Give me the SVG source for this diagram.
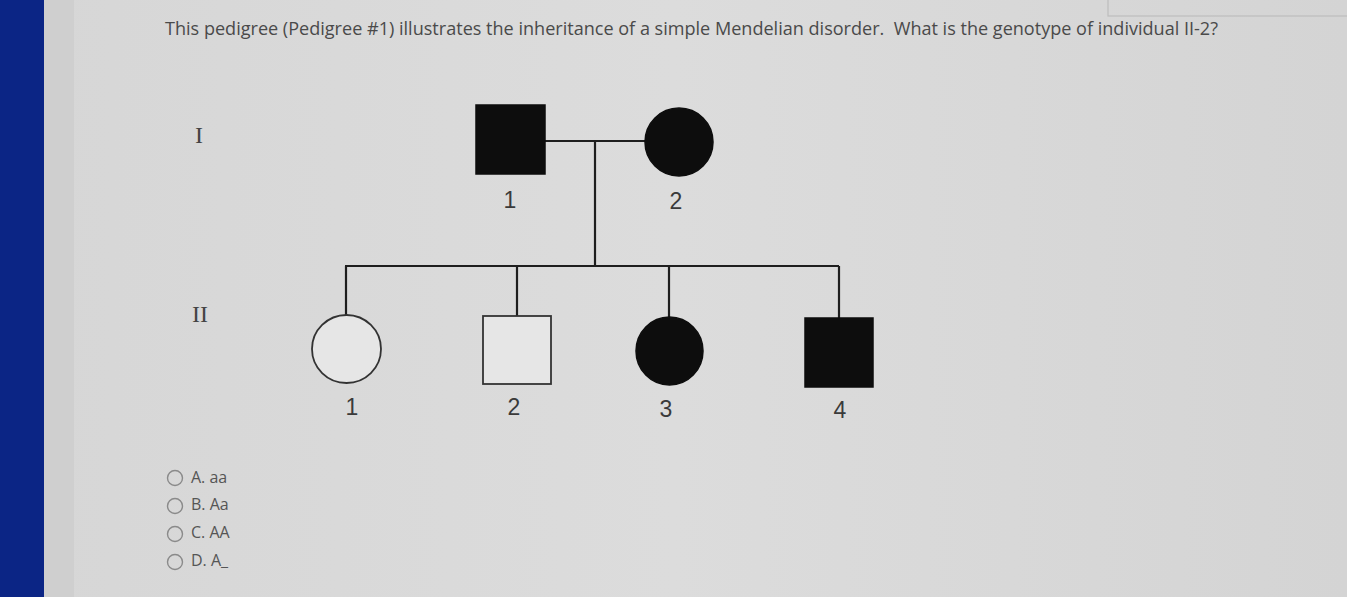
<svg xmlns="http://www.w3.org/2000/svg" width="1347" height="597" viewBox="0 0 1347 597">
<style>
.title{font-family:"Open Sans","Noto Sans",sans-serif;font-size:18px;fill:#4a4a4a}
.gen{font-family:"Liberation Serif",serif;font-size:24px;fill:#444}
.num{font-family:"Liberation Sans",Arial,sans-serif;font-size:23px;fill:#3a3a3a;text-anchor:middle}
.opt{font-family:"Open Sans","Noto Sans",sans-serif;font-size:16px;fill:#555}
.ln{stroke:#1e1e1e;stroke-width:2.2;fill:none}
.aff{fill:#0d0d0d;stroke:#0d0d0d;stroke-width:1.5}
.unaff{fill:#e6e6e6;stroke:#333;stroke-width:1.8}
.radio{fill:none;stroke:#8a8a8a;stroke-width:1.4}
</style>
<defs>
<linearGradient id="bg" x1="0" y1="0" x2="1" y2="0">
<stop offset="0" stop-color="#d6d6d6"/>
<stop offset="0.5" stop-color="#dcdcdc"/>
<stop offset="1" stop-color="#d4d4d4"/>
</linearGradient>
</defs>
<rect width="1347" height="597" fill="url(#bg)"/>
<rect x="40" y="0" width="34" height="597" fill="#cfcfcf"/>
<rect x="0" y="0" width="44" height="597" fill="#0b2585"/>
<rect x="1108" y="-2" width="245" height="18" fill="none" stroke="#bdbdbd" stroke-width="1.2"/>
<text class="title" x="165" y="35" textLength="1053" lengthAdjust="spacingAndGlyphs" xml:space="preserve">This pedigree (Pedigree #1) illustrates the inheritance of a simple Mendelian disorder.  What is the genotype of individual II-2?</text>
<text class="gen" x="195" y="143">I</text>
<text class="gen" x="192" y="322">II</text>
<g id="connectors">
<line class="ln" x1="545" y1="141" x2="645" y2="141"/>
<line class="ln" x1="595" y1="141" x2="595" y2="266"/>
<line class="ln" x1="345" y1="266" x2="839" y2="266"/>
<line class="ln" x1="346" y1="266" x2="346" y2="315"/>
<line class="ln" x1="517" y1="266" x2="517" y2="316"/>
<line class="ln" x1="669" y1="266" x2="669" y2="317"/>
<line class="ln" x1="839" y1="266" x2="839" y2="318"/>
</g>
<g id="I-1"><rect class="aff" x="476" y="105" width="69" height="69"/><text class="num" x="510" y="208">1</text></g>
<g id="I-2"><circle class="aff" cx="679" cy="142" r="34"/><text class="num" x="676" y="209">2</text></g>
<g id="II-1"><ellipse class="unaff" cx="346.5" cy="349" rx="34.5" ry="34"/><text class="num" x="352" y="415">1</text></g>
<g id="II-2"><rect class="unaff" x="483" y="316" width="68" height="68"/><text class="num" x="514" y="415">2</text></g>
<g id="II-3"><ellipse class="aff" cx="669.5" cy="351" rx="33.5" ry="34"/><text class="num" x="666" y="417">3</text></g>
<g id="II-4"><rect class="aff" x="805" y="318" width="68" height="69"/><text class="num" x="840" y="418">4</text></g>
<g id="options">
<circle class="radio" cx="175" cy="478" r="7.5"/><text class="opt" x="191" y="483">A. aa</text>
<circle class="radio" cx="175" cy="506" r="7.5"/><text class="opt" x="191" y="510">B. Aa</text>
<circle class="radio" cx="175" cy="534" r="7.5"/><text class="opt" x="191" y="538">C. AA</text>
<circle class="radio" cx="175" cy="562" r="7.5"/><text class="opt" x="191" y="566">D. A_</text>
</g>
</svg>
